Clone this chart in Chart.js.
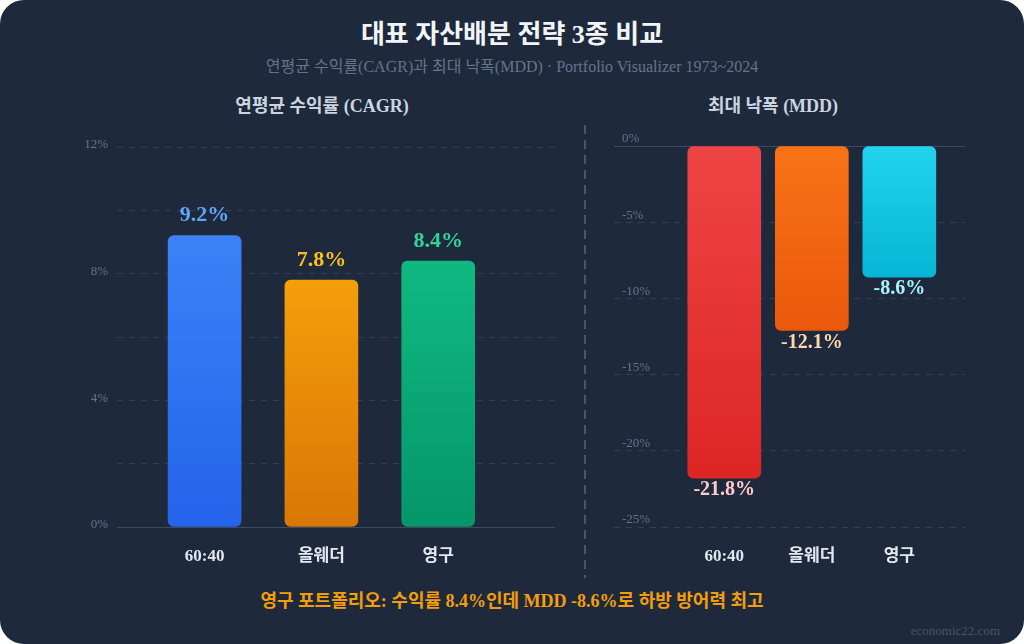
<!DOCTYPE html>
<html lang="ko">
<head>
<meta charset="utf-8">
<script src="https://cdn.jsdelivr.net/npm/chart.js@4.4.1/dist/chart.umd.min.js"></script>
<style>
  html, body { margin: 0; padding: 0; background: #ffffff; }
  body { width: 1024px; height: 644px; overflow: hidden; font-family: 'Liberation Serif', 'Noto Sans CJK KR', serif; }
  .card { position: absolute; left: 0; top: 0; width: 1024px; height: 644px; background: #1e293b; border-radius: 24px; overflow: hidden; }
  .title { position: absolute; top: 20px; left: 0; width: 100%; text-align: center; color: #f1f5f9; font-size: 26px; line-height: 30px; font-weight: bold; }
  .subtitle { position: absolute; top: 57px; left: 0; width: 100%; text-align: center; color: #64748b; font-size: 16px; line-height: 20px; }
  .chart-title { position: absolute; top: 95px; transform: translateX(-50%); color: #cbd5e1; font-size: 18px; line-height: 22px; font-weight: bold; white-space: nowrap; }
  .divider { position: absolute; left: 584px; top: 125px; width: 2px; height: 453px;
    background: repeating-linear-gradient(to bottom, #475569 0 9px, transparent 9px 15px); }
  .box { position: absolute; top: 120px; height: 460px; }
  .note { position: absolute; top: 590px; left: 0; width: 100%; text-align: center; color: #f59e0b; font-size: 18px; line-height: 22px; font-weight: bold; }
  .mark { position: absolute; top: 623px; right: 24px; color: #475569; font-size: 13px; line-height: 16px; }
</style>
</head>
<body>
<div class="card">
  <div class="title">대표 자산배분 전략 3종 비교</div>
  <div class="subtitle">연평균 수익률(CAGR)과 최대 낙폭(MDD) · Portfolio Visualizer 1973~2024</div>
  <div class="chart-title" style="left:322px">연평균 수익률 (CAGR)</div>
  <div class="chart-title" style="left:773px">최대 낙폭 (MDD)</div>
  <div class="divider"></div>
  <div class="box" style="left:40px; width:535px;"><canvas id="cagrChart"></canvas></div>
  <div class="box" style="left:585px; width:415px;"><canvas id="mddChart"></canvas></div>
  <div class="note">영구 포트폴리오: 수익률 8.4%인데 MDD -8.6%로 하방 방어력 최고</div>
  <div class="mark">economic22.com</div>
</div>
<script>
/////////////////////////////////////////////////////////////
// DATA

const categories = ["60:40", "올웨더", "영구"];
const cagrValues = [9.2, 7.8, 8.4];
const mddValues = [-21.8, -12.1, -8.6];

const cagrColors = [["#3b82f6", "#2563eb"], ["#f59e0b", "#d97706"], ["#10b981", "#059669"]];
const mddColors = [["#ef4444", "#dc2626"], ["#f97316", "#ea580c"], ["#22d3ee", "#06b6d4"]];
const cagrLabelColors = ["#60a5fa", "#fbbf24", "#34d399"];
const mddLabelColors = ["#fecaca", "#fed7aa", "#a5f3fc"];

Chart.defaults.font.family = "'Liberation Serif', 'Noto Sans CJK KR', serif";

/////////////////////////////////////////////////////////////
// HELPERS

// vertical gradient running over each bar
const barGradient = function (colors) {
  return function (context) {
    const { chart, dataIndex } = context;
    const pair = colors[dataIndex];
    const yScale = chart.scales.y;
    if (!chart.chartArea || !yScale) return pair[0];
    const v = context.raw.y;
    const top = yScale.getPixelForValue(Math.max(v, 0));
    const bottom = yScale.getPixelForValue(Math.min(v, 0));
    const g = chart.ctx.createLinearGradient(0, top, 0, bottom);
    g.addColorStop(0, pair[0]);
    g.addColorStop(1, pair[1]);
    return g;
  };
};

// value text above (positive) or below (negative) each bar
const valueLabels = {
  id: "valueLabels",
  afterDatasetsDraw(chart, args, opts) {
    const { ctx } = chart;
    const meta = chart.getDatasetMeta(0);
    ctx.save();
    ctx.font = `bold ${opts.size}px 'Liberation Serif', serif`;
    ctx.textAlign = "center";
    meta.data.forEach((bar, i) => {
      const v = chart.data.datasets[0].data[i].y;
      ctx.fillStyle = opts.colors[i];
      if (v >= 0) {
        ctx.textBaseline = "bottom";
        ctx.fillText(v.toFixed(1) + "%", bar.x, bar.y - 9);
      } else {
        ctx.textBaseline = "top";
        ctx.fillText(v.toFixed(1) + "%", bar.x, bar.y + 2);
      }
    });
    ctx.restore();
  },
};

const zeroSolid = (ctx) => (ctx.tick && ctx.tick.value === 0 ? [] : [6, 6]);
const gridColor = (ctx) => (ctx.tick && ctx.tick.value === 0 ? "#3d4b61" : "#334155");

const xAxis = function (min, max) {
  return {
    type: "linear",
    min: min,
    max: max,
    offset: false,
    grid: { display: false, offset: false },
    border: { display: false },
    afterBuildTicks(axis) {
      axis.ticks = categories.map((c, i) => ({ value: i }));
    },
    afterFit(axis) {
      axis.height = 53;
    },
    ticks: {
      padding: 11,
      color: "#e2e8f0",
      font: { size: 17, weight: "bold" },
      callback: (v) => categories[v],
    },
  };
};

/////////////////////////////////////////////////////////////
// CAGR CHART

new Chart(document.getElementById("cagrChart"), {
  type: "bar",
  data: {
    datasets: [
      {
        data: categories.map((c, i) => ({ x: i, y: cagrValues[i] })),
        backgroundColor: barGradient(cagrColors),
        borderRadius: 6,
        borderSkipped: false,
        barThickness: 73,
      },
    ],
  },
  options: {
    responsive: true,
    maintainAspectRatio: false,
    animation: false,
    layout: { padding: { top: 27, right: 20, left: 0, bottom: 0 } },
    scales: {
      x: xAxis(-0.75, 3),
      y: {
        min: 0,
        max: 12,
        afterFit(axis) {
          axis.width = 77;
        },
        ticks: {
          stepSize: 2,
          padding: 9,
          labelOffset: -2,
          color: "#64748b",
          font: { size: 13 },
          callback: (v) => (v % 4 === 0 ? v + "%" : ""),
        },
        grid: { drawTicks: false, color: gridColor },
        border: { display: false, dash: zeroSolid },
      },
    },
    plugins: {
      legend: { display: false },
      tooltip: { enabled: false },
      valueLabels: { colors: cagrLabelColors, size: 22 },
    },
  },
  plugins: [valueLabels],
});

/////////////////////////////////////////////////////////////
// MDD CHART

new Chart(document.getElementById("mddChart"), {
  type: "bar",
  data: {
    datasets: [
      {
        data: categories.map((c, i) => ({ x: i, y: mddValues[i] })),
        backgroundColor: barGradient(mddColors),
        borderRadius: 6,
        borderSkipped: false,
        barThickness: 73,
      },
    ],
  },
  options: {
    responsive: true,
    maintainAspectRatio: false,
    animation: false,
    layout: { padding: { top: 26, right: 35, left: 0, bottom: 0 } },
    scales: {
      x: xAxis(-1.26, 2.75),
      y: {
        min: -25,
        max: 0,
        afterFit(axis) {
          axis.width = 29;
        },
        ticks: {
          stepSize: 5,
          mirror: true,
          padding: 8,
          labelOffset: -7,
          color: "#64748b",
          font: { size: 13 },
          callback: (v) => v + "%",
        },
        grid: { drawTicks: false, color: gridColor },
        border: { display: false, dash: zeroSolid },
      },
    },
    plugins: {
      legend: { display: false },
      tooltip: { enabled: false },
      valueLabels: { colors: mddLabelColors, size: 20 },
    },
  },
  plugins: [valueLabels],
});
</script>
</body>
</html>
